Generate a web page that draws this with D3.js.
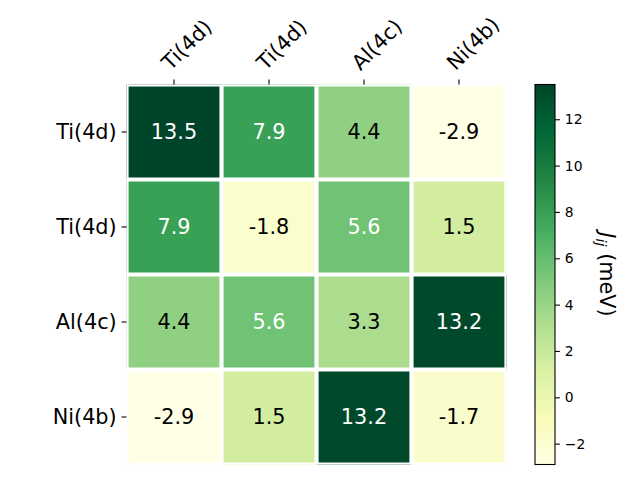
<!DOCTYPE html>
<html>
<head>
<meta charset="utf-8">
<script src="https://cdn.jsdelivr.net/npm/d3@7"></script>
<style>
  html, body { margin: 0; padding: 0; background: #fff; }
  svg { display: block; font-family: "DejaVu Sans", sans-serif; }
</style>
</head>
<body>
<svg id="chart" width="640" height="480"></svg>
<script>
// ---- data ----
const rowLabels = ["Ti(4d)", "Ti(4d)", "Al(4c)", "Ni(4b)"];
const colLabels = ["Ti(4d)", "Ti(4d)", "Al(4c)", "Ni(4b)"];
const row0 = [13.5, 7.9, 4.4, -2.9];
const row1 = [7.9, -1.8, 5.6, 1.5];
const row2 = [4.4, 5.6, 3.3, 13.2];
const row3 = [-2.9, 1.5, 13.2, -1.7];
const values = [row0, row1, row2, row3];
const cbTicks = [-2, 0, 2, 4, 6, 8, 10, 12];
const cbLabel = "(meV)";
const cmapColors = ["#ffffe5", "#f7fcb9", "#d9f0a3", "#addd8e", "#78c679",
                    "#41ab5d", "#238443", "#006837", "#004529"];

// ---- layout ----
const svg = d3.select("#chart");
const ax = { x0: 126.5, x1: 506.5, y0: 84.5, y1: 464.5 };
const cb = { x0: 535, x1: 555, y0: 84.5, y1: 464.5 };
const tickLen = 4.9, tickPad = 4.9;
const bigFont = 20.8, smallFont = 13.9;

const flat = values.flat();
const vmin = d3.min(flat), vmax = d3.max(flat);
const interp = d3.piecewise(d3.interpolateRgb, cmapColors);
const norm = d3.scaleLinear().domain([vmin, vmax]).range([0, 1]).clamp(true);
const color = v => interp(norm(v));
const threshold = (vmin + vmax) / 2;

const x = d3.scaleBand().domain(d3.range(colLabels.length)).range([ax.x0, ax.x1]);
const y = d3.scaleBand().domain(d3.range(rowLabels.length)).range([ax.y0, ax.y1]);

// clip for grid lines
const defs = svg.append("defs");
defs.append("clipPath").attr("id", "axclip")
  .append("rect").attr("x", ax.x0).attr("y", ax.y0)
  .attr("width", ax.x1 - ax.x0).attr("height", ax.y1 - ax.y0);

// cells
const cells = [];
values.forEach((r, i) => r.forEach((v, j) => cells.push({ i, j, v })));
svg.append("g").selectAll("rect").data(cells).join("rect")
  .attr("x", d => x(d.j)).attr("y", d => y(d.i))
  .attr("width", x.bandwidth()).attr("height", y.bandwidth())
  .attr("fill", d => color(d.v));

// white grid
const grid = svg.append("g").attr("clip-path", "url(#axclip)")
  .attr("stroke", "#fff").attr("stroke-width", 4.17);
const xb = d3.range(colLabels.length + 1).map(k => ax.x0 + k * x.bandwidth());
const yb = d3.range(rowLabels.length + 1).map(k => ax.y0 + k * y.bandwidth());
grid.selectAll("line.v").data(xb).join("line").attr("class", "v")
  .attr("x1", d => d).attr("x2", d => d).attr("y1", ax.y0).attr("y2", ax.y1);
grid.selectAll("line.h").data(yb).join("line").attr("class", "h")
  .attr("y1", d => d).attr("y2", d => d).attr("x1", ax.x0).attr("x2", ax.x1);

// annotations
svg.append("g").selectAll("text").data(cells).join("text")
  .attr("x", d => x(d.j) + x.bandwidth() / 2)
  .attr("y", d => y(d.i) + y.bandwidth() / 2)
  .attr("text-anchor", "middle").attr("dominant-baseline", "central")
  .attr("font-size", bigFont)
  .attr("fill", d => d.v > threshold ? "#ffffff" : "#000000")
  .text(d => d.v.toFixed(1));

// top x axis
const xAxisG = svg.append("g");
colLabels.forEach((lab, j) => {
  const cx = x(j) + x.bandwidth() / 2;
  xAxisG.append("line").attr("x1", cx).attr("x2", cx)
    .attr("y1", ax.y0).attr("y2", ax.y0 - tickLen)
    .attr("stroke", "#000").attr("stroke-width", 1.1);
  xAxisG.append("text")
    .attr("transform", `translate(${cx},${ax.y0 - tickLen - tickPad}) rotate(-45)`)
    .attr("dy", "-0.24em")
    .attr("text-anchor", "start").attr("font-size", bigFont).attr("fill", "#000")
    .text(lab);
});

// left y axis
const yAxisG = svg.append("g");
rowLabels.forEach((lab, i) => {
  const cy = y(i) + y.bandwidth() / 2;
  yAxisG.append("line").attr("x1", ax.x0).attr("x2", ax.x0 - tickLen)
    .attr("y1", cy).attr("y2", cy)
    .attr("stroke", "#000").attr("stroke-width", 1.1);
  yAxisG.append("text")
    .attr("x", ax.x0 - tickLen - tickPad).attr("y", cy)
    .attr("text-anchor", "end").attr("dominant-baseline", "central")
    .attr("font-size", bigFont).attr("fill", "#000")
    .text(lab);
});

// colorbar
const cbScale = d3.scaleLinear().domain([vmin, vmax]).range([cb.y1, cb.y0]);
const grad = defs.append("linearGradient").attr("id", "cbgrad")
  .attr("x1", 0).attr("y1", 1).attr("x2", 0).attr("y2", 0);
cmapColors.forEach((c, k) => {
  grad.append("stop").attr("offset", k / (cmapColors.length - 1)).attr("stop-color", c);
});
svg.append("rect").attr("x", cb.x0).attr("y", cbScale(vmax))
  .attr("width", cb.x1 - cb.x0).attr("height", cbScale(vmin) - cbScale(vmax))
  .attr("fill", "url(#cbgrad)")
  .attr("stroke", "#000").attr("stroke-width", 1.1);

const cbAxis = d3.axisRight(cbScale).tickValues(cbTicks)
  .tickSize(tickLen).tickPadding(tickPad)
  .tickFormat(d => d < 0 ? "\u2212" + Math.abs(d) : String(d));
const cbG = svg.append("g").attr("transform", `translate(${cb.x1},0)`).call(cbAxis);
cbG.select(".domain").remove();
cbG.selectAll(".tick line").attr("stroke", "#000").attr("stroke-width", 1.1);
cbG.selectAll(".tick text").attr("font-size", smallFont)
  .attr("font-family", "DejaVu Sans").attr("fill", "#000");

// colorbar label (rotated 270)
const lbl = svg.append("text")
  .attr("transform", `translate(600,${(cb.y0 + cb.y1) / 2}) rotate(90)`)
  .attr("text-anchor", "middle").attr("font-size", bigFont).attr("fill", "#000");
lbl.append("tspan").attr("font-style", "italic").text("J");
lbl.append("tspan").attr("font-style", "italic").attr("font-size", bigFont * 0.7)
  .attr("dy", 4).text("ij");
lbl.append("tspan").attr("dy", -4).text("\u00a0" + cbLabel);
</script>
</body>
</html>
